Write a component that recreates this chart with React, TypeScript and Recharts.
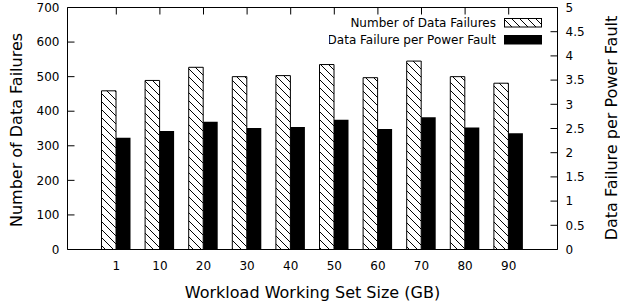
import { Bar, BarChart, Label, Legend, XAxis, YAxis } from 'recharts';

const sizes = ['1', '10', '20', '30', '40', '50', '60', '70', '80', '90'];
const failures = [459, 489, 527, 500, 503, 535, 497, 545, 500, 481];
const perFault = [2.31, 2.45, 2.64, 2.51, 2.53, 2.68, 2.49, 2.73, 2.52, 2.4];
const leftTicks = [0, 100, 200, 300, 400, 500, 600, 700];
const rightTicks = [0, 0.5, 1, 1.5, 2, 2.5, 3, 3.5, 4, 4.5, 5];

const data = sizes.map((size, i) => ({ size, failures: failures[i], perFault: perFault[i] }));

const FONT = 'DejaVu Sans, Verdana, sans-serif';
const tickStyle = { fill: '#000', fontSize: 12, fontFamily: FONT };
const pad = { left: 27, right: 27 };

const seriesOrder = ['failures', 'perFault'];
const fills: Record<string, string> = {
  failures: 'url(#hatch)',
  perFault: '#000',
};

type LegendItem = { value?: string; dataKey?: string | number };

const LegendBox = ({ payload }: { payload?: LegendItem[] }) => {
  const items = [...(payload ?? [])].sort(
    (a, b) => seriesOrder.indexOf(String(a.dataKey)) - seriesOrder.indexOf(String(b.dataKey)),
  );
  return (
    <svg width={230} height={44} style={{ display: 'block' }}>
      {items.map((entry, i) => (
        <g key={String(entry.dataKey)}>
          <text x={167} y={15 + i * 17} textAnchor="end" fontSize={12} fontFamily={FONT} fill="#000">
            {entry.value}
          </text>
          <rect
            x={175.5}
            y={6.5 + i * 17}
            width={37}
            height={8.5}
            fill={fills[String(entry.dataKey)]}
            stroke="#000"
            strokeWidth={1}
          />
        </g>
      ))}
    </svg>
  );
};

const axisTitle = (text: string, dx: number, dy: number, rotate: boolean) =>
  function AxisTitle(props: { viewBox?: { x: number; y: number; width: number; height: number } }) {
    const vb = props.viewBox ?? { x: 0, y: 0, width: 0, height: 0 };
    const x = vb.x + dx;
    const y = rotate ? vb.y + vb.height / 2 + dy : vb.y + dy;
    const cx = rotate ? x : vb.x + vb.width / 2;
    return (
      <text
        x={cx}
        y={y}
        textAnchor="middle"
        fontSize={16}
        fontFamily={FONT}
        fill="#000"
        transform={rotate ? `rotate(-90, ${cx}, ${y})` : undefined}
      >
        {text}
      </text>
    );
  };

export default function App() {
  return (
    <div style={{ position: 'absolute', left: 0, top: 0, background: '#fff', fontFamily: FONT }}>
      <BarChart
        width={620}
        height={307}
        data={data}
        barGap={0}
        margin={{ top: 0.5, right: 0.5, bottom: 0.5, left: 0.5 }}
      >
        <defs>
          <pattern id="hatch" patternUnits="userSpaceOnUse" width={8} height={8}>
            <rect width={8} height={8} fill="#fff" />
            <path d="M0,0 L8,8 M-2,6 L2,10 M6,-2 L10,2" stroke="#000" strokeWidth={1} />
          </pattern>
        </defs>
        <XAxis
          xAxisId="top"
          orientation="top"
          dataKey="size"
          height={7}
          padding={pad}
          interval={0}
          tickSize={-7}
          tickFormatter={() => ''}
          axisLine={{ stroke: '#000' }}
          tickLine={{ stroke: '#000' }}
        />
        <XAxis
          xAxisId="bottom"
          dataKey="size"
          height={57}
          padding={pad}
          interval={0}
          tickSize={0}
          tickMargin={12}
          tickLine={false}
          tick={tickStyle}
          axisLine={{ stroke: '#000' }}
        >
          <Label content={axisTitle('Workload Working Set Size (GB)', 0, 48.5, false)} />
        </XAxis>
        <YAxis
          yAxisId="left"
          orientation="left"
          width={67}
          domain={[0, 700]}
          ticks={leftTicks}
          interval={0}
          tickSize={-7}
          tickMargin={15}
          tick={tickStyle}
          axisLine={{ stroke: '#000' }}
          tickLine={{ stroke: '#000' }}
        >
          <Label content={axisTitle('Number of Data Failures', 21, 1.5, true)} />
        </YAxis>
        <YAxis
          yAxisId="right"
          orientation="right"
          width={62}
          domain={[0, 5]}
          ticks={rightTicks}
          interval={0}
          tickSize={-7}
          tickMargin={15}
          tick={tickStyle}
          axisLine={{ stroke: '#000' }}
          tickLine={{ stroke: '#000' }}
        >
          <Label content={axisTitle('Data Failure per Power Fault', 59.5, -0.5, true)} />
        </YAxis>
        <Legend
          layout="vertical"
          align="center"
          verticalAlign="middle"
          content={<LegendBox />}
          wrapperStyle={{ top: 12, left: 329, width: 230, height: 44 }}
        />
        <Bar
          name="Number of Data Failures"
          dataKey="failures"
          xAxisId="bottom"
          yAxisId="left"
          barSize={14.5}
          fill="url(#hatch)"
          stroke="#000"
          strokeWidth={1}
          isAnimationActive={false}
        />
        <Bar
          name="Data Failure per Power Fault"
          dataKey="perFault"
          xAxisId="bottom"
          yAxisId="right"
          barSize={14.5}
          fill="#000"
          isAnimationActive={false}
        />
      </BarChart>
    </div>
  );
}
